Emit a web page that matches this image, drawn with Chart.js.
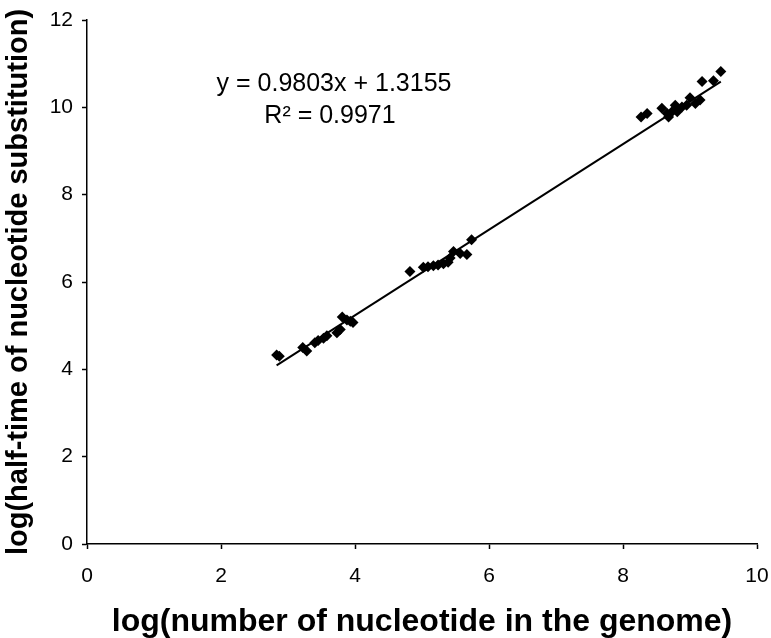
<!DOCTYPE html>
<html>
<head>
<meta charset="utf-8">
<script src="https://cdn.jsdelivr.net/npm/chart.js@4"></script>
<style>
  html, body { margin: 0; padding: 0; background: #fff; }
  #wrap { width: 771px; height: 638px; position: relative; }
</style>
</head>
<body>
<div id="wrap"><canvas id="scatterChart"></canvas></div>
<script>
// log(number of nucleotide in the genome)
const xValues = [
  2.83, 2.87, 3.22, 3.28, 3.40, 3.45, 3.53, 3.58, 3.73, 3.78, 3.81, 3.88, 3.93, 3.97,
  4.82, 5.02, 5.09, 5.17, 5.24, 5.32, 5.39, 5.42, 5.47, 5.57, 5.67, 5.74,
  8.27, 8.36, 8.58, 8.66, 8.68, 8.73, 8.78, 8.81, 8.88, 8.95, 9.00, 9.08, 9.15, 9.18, 9.35, 9.46
];
// log(half-time of nucleotide substitution)
const yValues = [
  4.33, 4.30, 4.50, 4.42, 4.61, 4.66, 4.71, 4.77, 4.84, 4.91, 5.20, 5.13, 5.10, 5.07,
  6.24, 6.34, 6.35, 6.37, 6.39, 6.42, 6.45, 6.55, 6.70, 6.65, 6.63, 6.97,
  9.78, 9.86, 9.98, 9.86, 9.78, 9.90, 10.05, 9.90, 10.01, 10.05, 10.22, 10.09, 10.17, 10.59, 10.61, 10.82
];
const slope = 0.9803;
const intercept = 1.3155;
const rSquared = 0.9971;
const xTicks = [0, 2, 4, 6, 8, 10];
const yTicks = [0, 2, 4, 6, 8, 10, 12];

const points = xValues.map((x, i) => ({ x: x, y: yValues[i] }));
const xMin = Math.min(...xValues);
const xMax = Math.max(...xValues);
const trend = [xMin, xMax].map(x => ({ x: x, y: slope * x + intercept }));

const FONT = "'Liberation Sans', Arial, sans-serif";

/* equation label, placed like Excel's trendline label */
const equationLabel = {
  id: "equationLabel",
  afterDraw(chart) {
    const ctx = chart.ctx;
    ctx.save();
    ctx.fillStyle = "#000";
    ctx.font = "25px " + FONT;
    ctx.textAlign = "center";
    ctx.textBaseline = "middle";
    ctx.fillText("y = " + slope.toFixed(4) + "x + " + intercept.toFixed(4), 334, 84);
    ctx.fillText("R\u00B2 = " + rSquared.toFixed(4), 330, 116);
    ctx.restore();
  }
};

const axisGrid = { display: true, drawOnChartArea: false, drawTicks: true, tickLength: 5, tickColor: "#000", tickWidth: 1.5 };

new Chart(document.getElementById("scatterChart"), {
  type: "scatter",
  data: {
    datasets: [
      {
        label: "genomes",
        data: points,
        pointStyle: "rectRot",
        pointRadius: 5.5,
        pointBackgroundColor: "#000",
        pointBorderWidth: 0,
        order: 1
      },
      {
        type: "line",
        label: "trend",
        data: trend,
        borderColor: "#000",
        borderWidth: 2,
        pointRadius: 0,
        fill: false,
        order: 2
      }
    ]
  },
  options: {
    responsive: true,
    maintainAspectRatio: false,
    animation: false,
    layout: { padding: { top: 20, right: 14, left: 0, bottom: 0 } },
    plugins: {
      legend: { display: false },
      tooltip: { enabled: false }
    },
    scales: {
      x: {
        type: "linear",
        min: 0,
        max: 10,
        afterBuildTicks: s => { s.ticks = xTicks.map(v => ({ value: v })); },
        afterFit: s => { s.height = 94; s.paddingLeft = 0; s.paddingRight = 0; },
        grid: axisGrid,
        border: { color: "#000", width: 1.5 },
        ticks: { color: "#000", font: { family: FONT, size: 21 }, padding: 15, maxRotation: 0 },
        title: {
          display: true,
          text: "log(number of nucleotide in the genome)",
          color: "#000",
          font: { family: FONT, size: 32, weight: "bold", lineHeight: 1 },
          padding: { top: 0, bottom: 0 }
        }
      },
      y: {
        type: "linear",
        min: 0,
        max: 12,
        afterBuildTicks: s => { s.ticks = yTicks.map(v => ({ value: v })); },
        afterFit: s => { s.width = 87; s.paddingTop = 0; s.paddingBottom = 0; },
        grid: axisGrid,
        border: { color: "#000", width: 1.5 },
        ticks: { color: "#000", font: { family: FONT, size: 21 }, padding: 9 },
        title: {
          display: true,
          text: "log(half-time of nucleotide substitution)",
          color: "#000",
          font: { family: FONT, size: 29, weight: "bold" },
          padding: { top: 2, bottom: 0 }
        }
      }
    }
  },
  plugins: [equationLabel]
});
</script>
</body>
</html>
